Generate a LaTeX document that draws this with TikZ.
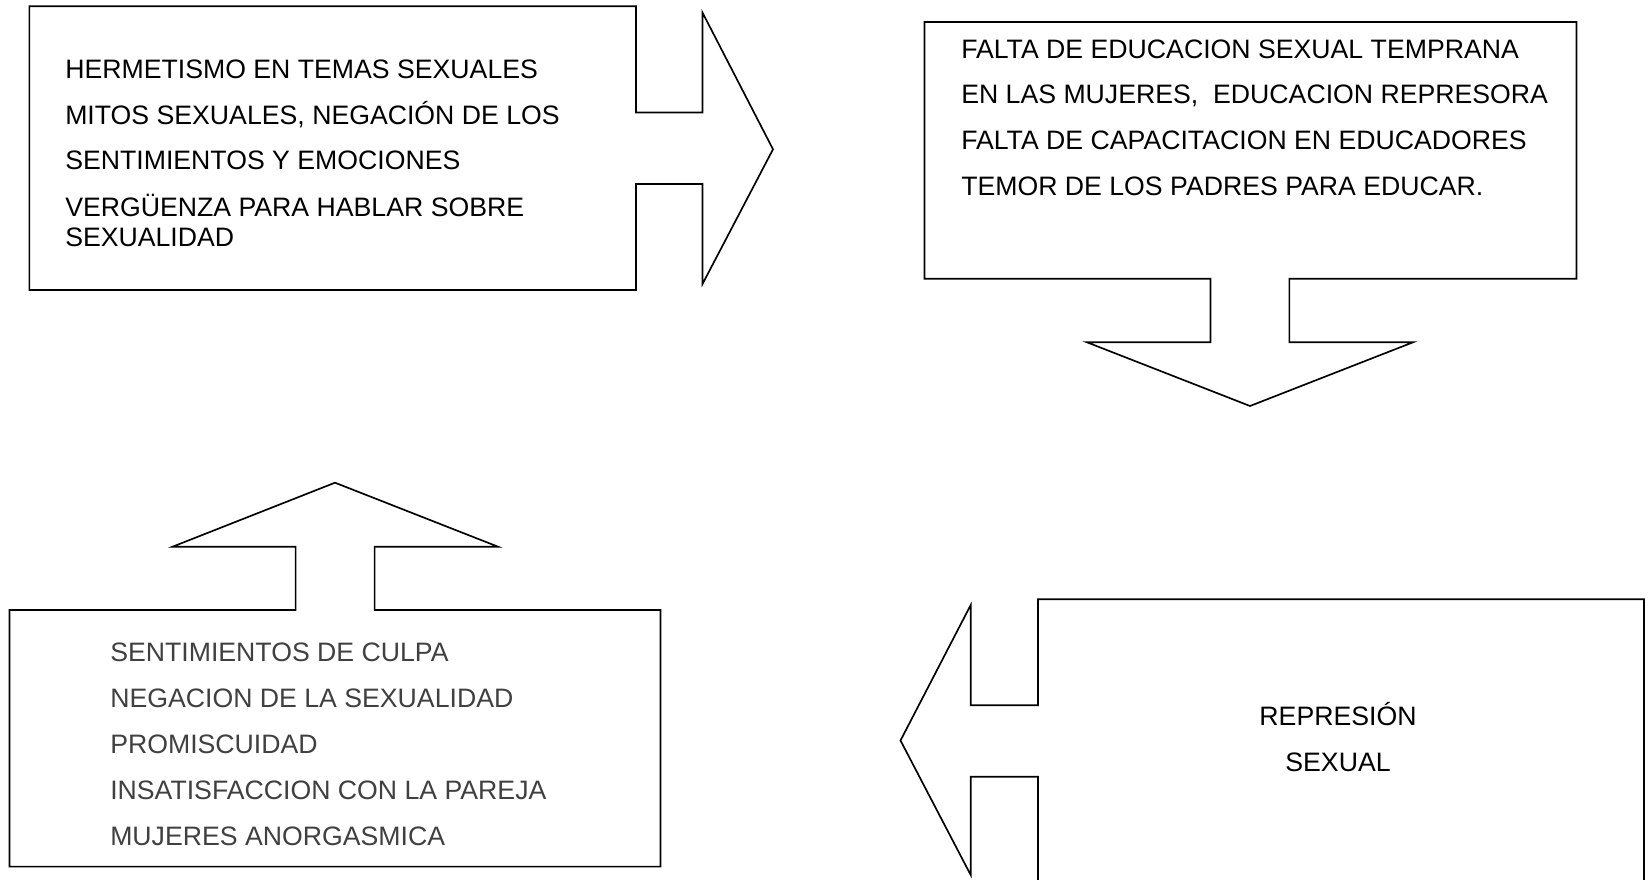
\documentclass[tikz,border=0pt]{standalone}
\usepackage{fontspec}
\setmainfont{Liberation Sans}
\definecolor{txtgray}{HTML}{404040}
\tikzset{
  outline/.style={draw=black, line width=1.25pt, line join=miter, fill=white},
  txt/.style={anchor=base west, inner sep=0pt, font=\fontsize{20pt}{24pt}\selectfont},
  ctxt/.style={anchor=base, inner sep=0pt, font=\fontsize{20pt}{24pt}\selectfont}
}
\begin{document}
\begin{tikzpicture}[x=0.75pt, y=-0.75pt]
\useasboundingbox (0,0) rectangle (1649,880);
\clip (0,0) rectangle (1649,880);
% shape 1: box with right arrow
\draw[outline] (636,112.5) -- (702.5,112.5) -- (702.5,12.6) -- (773,149.3) -- (702.5,284) -- (702.5,184) -- (636,184) -- (636,290) -- (29.4,290) -- (29.4,6.3) -- (636,6.3) -- cycle;
% shape 2: box with down arrow
\draw[outline] (924.5,22) -- (1576.5,22) -- (1576.5,278.7) -- (1289.4,278.7) -- (1289.4,342.3) -- (1413,342.3) -- (1250,406) -- (1087,342.3) -- (1210.5,342.3) -- (1210.5,278.7) -- (924.5,278.7) -- cycle;
% shape 3: box with up arrow
\draw[outline] (9.5,866.6) -- (9.5,610) -- (295.6,610) -- (295.6,546.7) -- (172.6,546.7) -- (335,482.7) -- (498,546.7) -- (374.6,546.7) -- (374.6,610) -- (660.5,610) -- (660.5,866.6) -- cycle;
% shape 4: box with left arrow
\draw[outline] (1038,905) -- (1038,776.7) -- (970.7,776.7) -- (970.7,875) -- (900.5,740.5) -- (970.7,605) -- (970.7,705.3) -- (1038,705.3) -- (1038,599.3) -- (1644,599.3) -- (1644,905);

% texts box 1
\node[txt] (a1) at (65,79) {HERMETISMO EN TEMAS SEXUALES};
\node[txt] (a2) at (65,124.3) {MITOS SEXUALES, NEGACIÓN DE LOS};
\node[txt] (a3) at (65,170) {SENTIMIENTOS Y EMOCIONES};
\node[txt] (a4) at (65,216.7) {VERGÜENZA PARA HABLAR SOBRE};
\node[txt] (a5) at (65,246.7) {SEXUALIDAD};
% texts box 2
\node[txt] (b1) at (961,58.3) {FALTA DE EDUCACION SEXUAL TEMPRANA};
\node[txt] (b2) at (961,104) {EN LAS MUJERES,\ \ EDUCACION REPRESORA};
\node[txt] (b3) at (961,150) {FALTA DE CAPACITACION EN EDUCADORES};
\node[txt] (b4) at (961,196) {TEMOR DE LOS PADRES PARA EDUCAR.};
% texts box 3
\node[txt, text=txtgray] (c1) at (110,661.7) {SENTIMIENTOS DE CULPA};
\node[txt, text=txtgray] (c2) at (110,707.3) {NEGACION DE LA SEXUALIDAD};
\node[txt, text=txtgray] (c3) at (110,753.3) {PROMISCUIDAD};
\node[txt, text=txtgray] (c4) at (110,799.3) {INSATISFACCION CON LA PAREJA};
\node[txt, text=txtgray] (c5) at (110,845) {MUJERES ANORGASMICA};
% texts box 4
\node[ctxt] (d1) at (1338,725.7) {REPRESIÓN};
\node[ctxt] (d2) at (1338,771.7) {SEXUAL};
\end{tikzpicture}
\end{document}
